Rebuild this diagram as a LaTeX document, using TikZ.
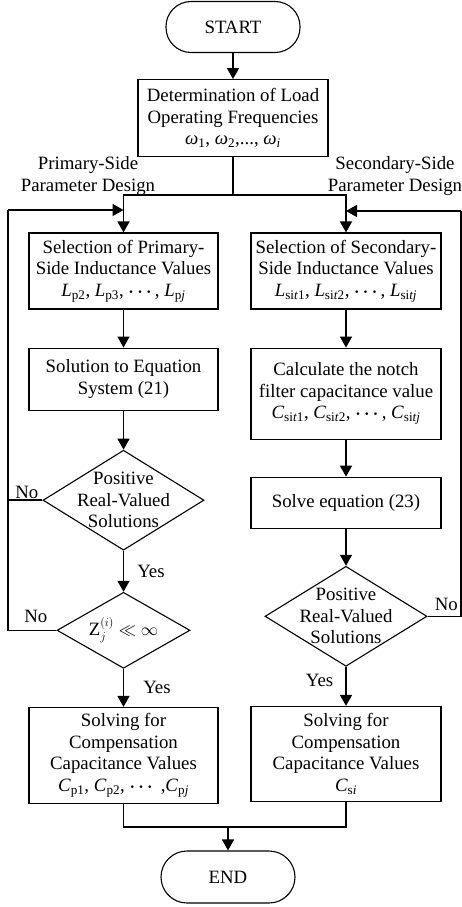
\documentclass[tikz,border=0pt]{standalone}
\usepackage{amsmath,amssymb}
\usepackage{fontspec}
\setmainfont{Liberation Serif}
\usepackage{tikz}
\usetikzlibrary{shapes.geometric, arrows.meta, positioning, calc}
\newcommand{\vsub}[2]{\textit{#1}\textsubscript{#2}}
\newcommand{\bdots}{$\boldsymbol{\cdots}$}
\tikzset{
  block/.style={rectangle, draw, line width=1.1pt, minimum width=190pt,
    align=center, inner sep=2pt, font=\fontsize{18.8}{21.5}\selectfont},
  term/.style={rectangle, draw, line width=1.1pt, rounded corners=25pt,
    minimum width=134pt, minimum height=51pt, font=\fontsize{18.8}{21.5}\selectfont},
  decision/.style={diamond, draw, line width=1.1pt, inner sep=-20pt,
    align=center, font=\fontsize{18.8}{21.5}\selectfont},
  lbl/.style={inner sep=1pt, align=center, font=\fontsize{18.8}{21.5}\selectfont},
  arr/.style={-{Triangle[length=11pt, width=12pt]}, line width=1.5pt},
  wire/.style={line width=1.5pt},
}
\begin{document}
\begin{tikzpicture}[x=1pt, y=-1pt]
  \useasboundingbox (0,0) rectangle (462,907);
  % Top
  \node[term] (start) at (233,27) {START};
  \node[block, minimum height=77pt, below=26pt of start] (det)
    {Determination of Load\\Operating Frequencies\\
     \vsub{ω}{1}, \vsub{ω}{2},..., \vsub{ω}{\textit{i}}};
  \node[lbl] (phead) at (88,176) {Primary-Side\\Parameter Design};
  \node[lbl] (shead) at (395,176) {Secondary-Side\\Parameter Design};

  % Primary side
  \node[block, minimum width=189pt, minimum height=76pt] (lsel) at (123.5,271)
    {Selection of Primary-\\Side Inductance Values\\
     \vsub{L}{p2}, \vsub{L}{p3}, \bdots, \vsub{L}{p\textit{j}}};
  \node[block, minimum width=189pt, minimum height=62pt, below=38pt of lsel] (lsol)
    {Solution to Equation\\System (21)};
  \node[decision, minimum width=161pt, minimum height=100pt, below=39pt of lsol] (lpos)
    {Positive\\Real-Valued\\Solutions};
  \node[decision, minimum width=133pt, minimum height=76pt, below=41pt of lpos] (lzin)
    {$\mathrm{Z}_j^{(i)} \ll \infty$};
  \node[block, minimum width=189pt, minimum height=96pt, below=38pt of lzin] (lcap)
    {Solving for\\Compensation\\Capacitance Values\\
     \vsub{C}{p1}, \vsub{C}{p2}, \bdots\ ,\vsub{C}{p\textit{j}}};

  % Secondary side
  \node[block, minimum height=76pt] (rsel) at (346,271)
    {Selection of Secondary-\\Side Inductance Values\\
     \vsub{L}{si\textit{t}1}, \vsub{L}{si\textit{t}2}, \bdots, \vsub{L}{si\textit{tj}}};
  \node[block, minimum height=91pt, below=38pt of rsel] (rnotch)
    {Calculate the notch\\filter capacitance value\\
     \vsub{C}{si\textit{t}1}, \vsub{C}{si\textit{t}2}, \bdots, \vsub{C}{si\textit{tj}}};
  \node[block, minimum height=51pt, below=37pt of rnotch] (rsolve) {Solve equation (23)};
  \node[decision, minimum width=162pt, minimum height=100pt, below=37pt of rsolve] (rpos)
    {Positive\\Real-Valued\\Solutions};
  \node[block, minimum height=95pt, below=39pt of rpos] (rcap)
    {Solving for\\Compensation\\Capacitance Values\\\vsub{C}{s\textit{i}}};

  % End
  \node[term, minimum height=52pt, rounded corners=26pt] (end) at (228,877) {END};

  % Loop points
  \coordinate (split) at (233,195);
  \coordinate (lloop) at (8,210);
  \coordinate (rloop) at (461,211);
  \coordinate (join) at (234,827);

  \draw[arr] (start) -- (det);
  \draw[wire] (det.south) -- (split);
  \draw[arr] (split) -| (lsel.north);
  \draw[arr] (split) -| (rsel.north);

  \draw[arr] (lsel) -- (lsol);
  \draw[arr] (lsol) -- (lpos);
  \draw[arr] (lpos) -- node[lbl, right=12pt] {Yes} (lzin);
  \draw[arr] (lzin) -- node[lbl, right=18pt] {Yes} (lcap);
  \draw[wire] (lzin.west) -| (lloop);
  \draw[wire] (lpos.west) -- (lpos.west -| lloop);
  \draw[arr] (lloop) -- (lloop -| lsel.north);
  \node[lbl, above left=0pt and 3pt of lpos.west] (lno1) {No};
  \node[lbl, above left=6pt and 8pt of lzin.west] (lno2) {No};

  \draw[arr] (rsel) -- (rnotch);
  \draw[arr] (rnotch) -- (rsolve);
  \draw[arr] (rsolve) -- (rpos);
  \draw[arr] (rpos) -- node[lbl, left=11pt, yshift=6pt] {Yes} (rcap);
  \draw[wire] (rpos.east) -| (rloop);
  \draw[arr] (rloop) -- (rloop -| rsel.north);
  \node[lbl, above right=4pt and 6pt of rpos.east] (rno) {No};

  \draw[wire] (lcap.south) |- (join) -| (rcap.south);
  \draw[arr] (end.north |- join) -- (end);
\end{tikzpicture}
\end{document}
